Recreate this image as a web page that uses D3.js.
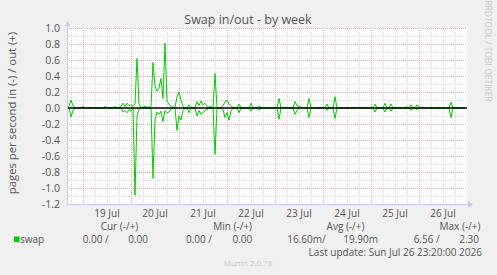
<!DOCTYPE html>
<html>
<head>
<meta charset="utf-8">
<script src="https://cdn.jsdelivr.net/npm/d3@7"></script>
<style>
  body { margin: 0; background: #f0f0f0; }
  svg { display: block; font-family: 'Open Sans', sans-serif; }
</style>
</head>
<body>
<svg id="chart" width="497" height="275"></svg>
<script>
// hourly samples, first one at 18 Jul 16:00
var start = new Date(2026, 6, 18, 16)
var end = new Date(2026, 6, 27, 0)

var dayLabels = ['19 Jul', '20 Jul', '21 Jul', '22 Jul', '23 Jul', '24 Jul', '25 Jul', '26 Jul']
var yTicks = [-1.2, -1.0, -0.8, -0.6, -0.4, -0.2, 0.0, 0.2, 0.4, 0.6, 0.8, 1.0]

// pages/s out (+)
var swapOut = [
  0, .02, .10, .03, 0, 0, 0, 0, .02, 0,
  0, 0, 0, 0, 0, 0, 0, 0, 0, .02,
  0, 0, 0, 0, .02, 0, 0, .02, .06, .02,
  .06, .03, .04, .02, .05, .62, .05, .01, .01, .02,
  .01, .01, .02, .57, .27, .21, .25, .37, .12, .81,
  .08, .05, .02, .01, .01, .14, .20, .10, .02, 0,
  0, .04, 0, 0, 0, .08, .03, .09, .04, .06,
  .02, .01, .02, 0, .43, .01, 0, 0, .03, .08,
  .10, .05, .03, 0, 0, 0, .05, 0, 0, 0,
  0, 0, .06, 0, 0, 0, .03, 0, .01, 0,
  .01, 0, 0, 0, 0, 0, .12, 0, 0, 0,
  .01, 0, 0, 0, .08, .03, .02, .01, 0, 0,
  0, .12, 0, 0, 0, 0, .01, 0, 0, 0,
  .05, 0, 0, 0, .14, 0, 0, 0, 0, 0,
  0, 0, 0, 0, .01, 0, .01, 0, .01, 0,
  .01, 0, 0, 0, .05, 0, 0, 0, 0, .06,
  0, 0, .05, 0, 0, .01, 0, 0, 0, .01,
  .01, 0, .04, 0, 0, .04, 0, 0, .01, 0,
  0, 0, .01, 0, 0, 0, .01, 0, 0, 0,
  0, 0, .07, 0, 0, 0, 0, .01, 0, 0
]

// pages/s in (-), drawn below zero
var swapIn = [
  0, 0, .11, .03, 0, 0, 0, 0, 0, 0,
  0, 0, 0, 0, 0, 0, 0, 0, 0, 0,
  0, 0, 0, 0, 0, 0, 0, 0, .05, .03,
  .06, .02, .04, 0, 1.09, .10, .02, 0, 0, 0,
  0, 0, 0, .88, .15, .05, .08, .04, .17, .03,
  .06, .05, .01, 0, 0, .28, .10, .15, .03, 0,
  0, .06, 0, 0, 0, .10, .03, .08, .06, .03,
  .02, 0, 0, 0, .58, 0, 0, 0, .02, .12,
  .06, .15, .04, 0, 0, 0, .06, 0, 0, 0,
  0, 0, .04, 0, 0, 0, .03, 0, 0, 0,
  0, 0, 0, 0, 0, 0, .14, 0, 0, 0,
  0, 0, 0, 0, .08, .03, 0, 0, 0, 0,
  0, .12, 0, 0, 0, 0, 0, 0, 0, 0,
  .03, 0, 0, 0, .13, 0, 0, 0, 0, 0,
  0, 0, 0, 0, 0, 0, 0, 0, 0, 0,
  0, 0, 0, 0, .05, 0, 0, 0, 0, .05,
  0, 0, .04, 0, 0, 0, 0, 0, 0, 0,
  0, 0, .03, 0, 0, .02, 0, 0, 0, 0,
  0, 0, 0, 0, 0, 0, 0, 0, 0, 0,
  0, 0, .12, 0, 0, 0, 0, 0, 0, 0
]

var legendHeads = ['Cur (-/+)', 'Min (-/+)', 'Avg (-/+)', 'Max (-/+)']
var legendIn = ['0.00 /', '0.00 /', '16.60m/', '6.56 /']
var legendOut = ['0.00', '0.00', '19.90m', '2.30']

var plotL = 67, plotR = 467, plotT = 28, plotB = 204

var svg = d3.select('#chart')

var x = d3.scaleTime().domain([start, end]).range([plotL, plotR])
var y = d3.scaleLinear().domain([-1.2, 1.0]).range([plotB, plotT])

svg.append('rect').attr('x', plotL).attr('y', plotT)
  .attr('width', plotR - plotL).attr('height', plotB - plotT).attr('fill', '#fff')

var grid = svg.append('g').attr('shape-rendering', 'crispEdges')

// minor grid
var minorY = y.ticks(22).filter(v => Math.round(v * 10) % 2 !== 0)
grid.selectAll('.hmin').data(minorY).enter().append('line')
  .attr('x1', plotL).attr('x2', plotR)
  .attr('y1', d => Math.round(y(d)) + 0.5).attr('y2', d => Math.round(y(d)) + 0.5)
  .attr('stroke', '#d2d2d2').attr('stroke-dasharray', '1,1')

var minorX = d3.timeHour.every(6).range(start, end).filter(d => d.getHours() !== 0)
grid.selectAll('.vmin').data(minorX).enter().append('line')
  .attr('x1', d => Math.round(x(d)) + 0.5).attr('x2', d => Math.round(x(d)) + 0.5)
  .attr('y1', plotT).attr('y2', plotB)
  .attr('stroke', '#d2d2d2').attr('stroke-dasharray', '1,1')

// major grid
grid.selectAll('.hmaj').data(yTicks).enter().append('line')
  .attr('x1', plotL).attr('x2', plotR)
  .attr('y1', d => Math.round(y(d)) + 0.5).attr('y2', d => Math.round(y(d)) + 0.5)
  .attr('stroke', '#e3a3a3').attr('stroke-dasharray', '1,1')

var majorX = d3.timeDay.range(start, end)
grid.selectAll('.vmaj').data(majorX).enter().append('line')
  .attr('x1', d => Math.round(x(d)) + 0.5).attr('x2', d => Math.round(x(d)) + 0.5)
  .attr('y1', plotT).attr('y2', plotB)
  .attr('stroke', '#e3a3a3').attr('stroke-dasharray', '1,1')

// data lines
var t = i => d3.timeHour.offset(start, i)
var lineOut = d3.line().x((d, i) => x(t(i))).y(d => y(d))
var lineIn = d3.line().x((d, i) => x(t(i))).y(d => y(-d))

svg.append('path').attr('d', lineIn(swapIn))
  .attr('fill', 'none').attr('stroke', '#00cc00').attr('stroke-width', 1)
svg.append('path').attr('d', lineOut(swapOut))
  .attr('fill', 'none').attr('stroke', '#00cc00').attr('stroke-width', 1)

// zero rule
svg.append('line').attr('x1', plotL).attr('x2', plotR)
  .attr('y1', y(0)).attr('y2', y(0))
  .attr('stroke', '#000').attr('stroke-width', 1.3)

// axes with arrows
var axisCol = '#c9c9f2'
svg.append('line').attr('x1', plotL + 0.5).attr('x2', plotL + 0.5)
  .attr('y1', plotB + 1).attr('y2', plotT - 4).attr('stroke', axisCol)
svg.append('line').attr('x1', plotL - 1).attr('x2', plotR + 2)
  .attr('y1', plotB + 0.5).attr('y2', plotB + 0.5).attr('stroke', axisCol)
svg.append('path').attr('d', `M${plotL - 2.5},${plotT - 2}L${plotL + 0.5},${plotT - 7}L${plotL + 3.5},${plotT - 2}Z`)
  .attr('fill', axisCol)
svg.append('path').attr('d', `M${plotR + 1},${plotB - 3}L${plotR + 6},${plotB + 0.5}L${plotR + 1},${plotB + 4}Z`)
  .attr('fill', axisCol)

// y tick labels
svg.selectAll('.ylab').data(yTicks).enter().append('text')
  .attr('x', 60).attr('y', d => y(d) + 3.8)
  .attr('text-anchor', 'end').attr('font-size', '10.5px').attr('fill', '#555')
  .text(d => d3.format('.1f')(d).replace('−', '-'))

// x tick labels at noon
svg.selectAll('.xlab').data(dayLabels).enter().append('text')
  .attr('x', (d, i) => x(d3.timeHour.offset(majorX[i], 12)))
  .attr('y', 217).attr('text-anchor', 'middle')
  .attr('font-size', '10px').attr('fill', '#555')
  .text(d => d)

// titles
svg.append('text').attr('x', 248).attr('y', 24).attr('text-anchor', 'middle')
  .attr('font-size', '12.5px').attr('fill', '#555').text('Swap in/out - by week')

svg.append('text').attr('transform', 'translate(16,113) rotate(-90)')
  .attr('text-anchor', 'middle').attr('font-size', '11.3px').attr('fill', '#555')
  .text('pages per second in (-) / out (+)')

svg.append('text').attr('transform', 'translate(484.5,51) rotate(90)')
  .attr('text-anchor', 'middle').attr('font-size', '8.5px').attr('fill', '#c8c8c8')
  .text('RRDTOOL / TOBI OETIKER')

// legend
var headX = [119.5, 232.7, 345.5, 460]
var inX = [108.7, 212, 325.7, 439.7]
var outX = [148, 252.3, 378, 479]

svg.selectAll('.lh').data(legendHeads).enter().append('text')
  .attr('x', (d, i) => headX[i]).attr('y', 230).attr('text-anchor', 'middle')
  .attr('font-size', '10px').attr('fill', '#555').text(d => d)

svg.append('rect').attr('x', 14).attr('y', 236.5).attr('width', 5.5).attr('height', 5.5)
  .attr('fill', '#00cc00')
svg.append('text').attr('x', 20).attr('y', 243).attr('font-size', '10px')
  .attr('fill', '#555').text('swap')

svg.selectAll('.li').data(legendIn).enter().append('text')
  .attr('x', (d, i) => inX[i]).attr('y', 243).attr('text-anchor', 'end')
  .attr('font-size', '10px').attr('fill', '#555').attr('xml:space', 'preserve').text(d => d)
svg.selectAll('.lo').data(legendOut).enter().append('text')
  .attr('x', (d, i) => outX[i]).attr('y', 243).attr('text-anchor', 'end')
  .attr('font-size', '10px').attr('fill', '#555').text(d => d)

svg.append('text').attr('x', 482).attr('y', 255.5).attr('text-anchor', 'end')
  .attr('font-size', '10px').attr('fill', '#555')
  .text('Last update: Sun Jul 26 23:20:00 2026')

svg.append('text').attr('x', 248).attr('y', 266).attr('text-anchor', 'middle')
  .attr('font-size', '8px').attr('fill', '#c4c4c4').text('Munin 2.0.76')
</script>
</body>
</html>
